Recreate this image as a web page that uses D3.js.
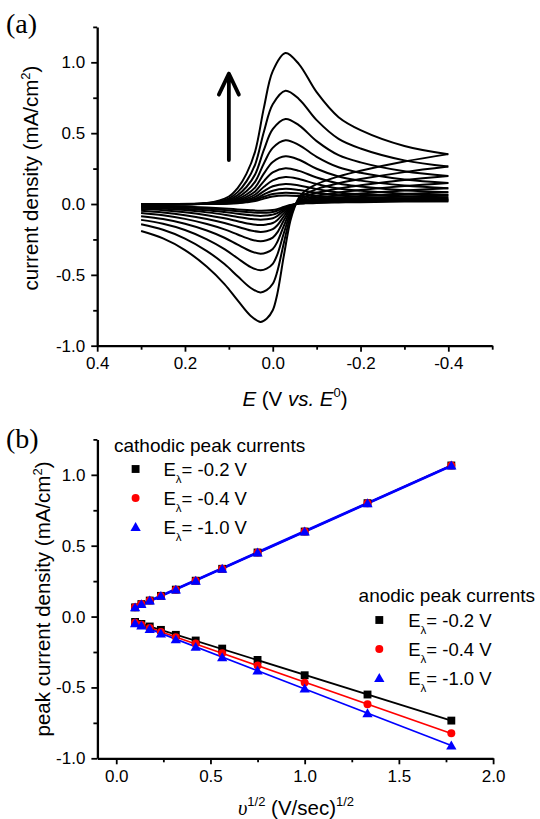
<!DOCTYPE html>
<html><head><meta charset="utf-8">
<script src="https://cdn.jsdelivr.net/npm/d3@7"></script>
<style>
body{margin:0;background:#fff}
svg{display:block}
</style>
</head><body>
<svg id="c" width="540" height="819"></svg>
<script>
// ---------- Panel (a): cyclic voltammograms (E in V vs E0, j in mA/cm2) ----------
const cvForwardE = [0.3, 0.15, 0.1, 0.08, 0.06, 0.04, 0.02, 0.0, -0.029, -0.06, -0.1, -0.15, -0.2, -0.3, -0.4];
const cvForwardJ = [
  [0, 0.007, 0.053, 0.112, 0.213, 0.373, 0.682, 0.938, 1.066, 0.986, 0.789, 0.613, 0.522, 0.410, 0.352],
  [0, 0.005, 0.040, 0.084, 0.160, 0.280, 0.512, 0.704, 0.800, 0.740, 0.592, 0.460, 0.392, 0.308, 0.264],
  [0, 0.004, 0.030, 0.063, 0.120, 0.210, 0.384, 0.528, 0.600, 0.555, 0.444, 0.345, 0.294, 0.231, 0.198],
  [0, 0.003, 0.023, 0.047, 0.090, 0.158, 0.288, 0.396, 0.450, 0.416, 0.333, 0.259, 0.220, 0.173, 0.149],
  [0, 0.002, 0.017, 0.035, 0.067, 0.118, 0.216, 0.297, 0.337, 0.312, 0.249, 0.194, 0.165, 0.130, 0.111],
  [0, 0.002, 0.013, 0.027, 0.051, 0.089, 0.162, 0.223, 0.253, 0.234, 0.187, 0.145, 0.124, 0.097, 0.083],
  [0, 0.001, 0.010, 0.020, 0.038, 0.067, 0.122, 0.167, 0.190, 0.176, 0.141, 0.109, 0.093, 0.073, 0.063],
  [0, 0.001, 0.007, 0.015, 0.028, 0.050, 0.091, 0.125, 0.142, 0.131, 0.105, 0.082, 0.070, 0.055, 0.047],
  [0, 0.001, 0.005, 0.011, 0.021, 0.037, 0.068, 0.094, 0.107, 0.099, 0.079, 0.062, 0.052, 0.041, 0.035],
  [0, 0.001, 0.004, 0.008, 0.016, 0.028, 0.051, 0.070, 0.080, 0.074, 0.059, 0.046, 0.039, 0.031, 0.026],
  [0, 0.000, 0.003, 0.006, 0.012, 0.021, 0.038, 0.053, 0.060, 0.056, 0.044, 0.035, 0.029, 0.023, 0.020]
];
const cvReverseE = [-0.4, -0.3, -0.2, -0.15, -0.1, -0.075, -0.06, -0.05, -0.04, -0.025, -0.01, 0.0, 0.014, 0.028, 0.05, 0.08, 0.11, 0.15, 0.2, 0.25, 0.3];
const cvReverseJ = [
  [0.352, 0.300, 0.235, 0.195, 0.140, 0.095, 0.048, -0.020, -0.120, -0.370, -0.640, -0.750, -0.810, -0.832, -0.790, -0.680, -0.565, -0.443, -0.325, -0.243, -0.191],
  [0.264, 0.225, 0.176, 0.146, 0.105, 0.071, 0.036, -0.015, -0.090, -0.278, -0.480, -0.563, -0.608, -0.624, -0.593, -0.510, -0.424, -0.332, -0.244, -0.182, -0.143],
  [0.198, 0.169, 0.132, 0.110, 0.079, 0.053, 0.027, -0.011, -0.068, -0.208, -0.360, -0.422, -0.456, -0.468, -0.445, -0.383, -0.318, -0.249, -0.183, -0.139, -0.112],
  [0.149, 0.127, 0.099, 0.082, 0.059, 0.040, 0.020, -0.008, -0.051, -0.156, -0.270, -0.317, -0.342, -0.351, -0.333, -0.287, -0.238, -0.187, -0.139, -0.106, -0.086],
  [0.111, 0.095, 0.074, 0.062, 0.044, 0.030, 0.015, -0.006, -0.038, -0.117, -0.202, -0.237, -0.256, -0.263, -0.250, -0.215, -0.179, -0.141, -0.105, -0.080, -0.064],
  [0.083, 0.071, 0.056, 0.046, 0.033, 0.023, 0.011, -0.005, -0.028, -0.088, -0.152, -0.178, -0.192, -0.197, -0.187, -0.161, -0.134, -0.106, -0.079, -0.060, -0.048],
  [0.063, 0.053, 0.042, 0.035, 0.025, 0.017, 0.009, -0.004, -0.021, -0.066, -0.114, -0.134, -0.144, -0.148, -0.141, -0.121, -0.101, -0.079, -0.058, -0.044, -0.036],
  [0.047, 0.040, 0.031, 0.026, 0.019, 0.013, 0.006, -0.003, -0.016, -0.049, -0.085, -0.100, -0.108, -0.111, -0.105, -0.091, -0.075, -0.059, -0.043, -0.033, -0.027],
  [0.035, 0.030, 0.024, 0.020, 0.014, 0.010, 0.005, -0.002, -0.012, -0.037, -0.064, -0.075, -0.081, -0.084, -0.079, -0.068, -0.057, -0.044, -0.033, -0.025, -0.020],
  [0.026, 0.023, 0.018, 0.015, 0.011, 0.007, 0.004, -0.002, -0.009, -0.028, -0.048, -0.056, -0.061, -0.062, -0.059, -0.051, -0.042, -0.033, -0.024, -0.018, -0.015],
  [0.020, 0.017, 0.013, 0.011, 0.008, 0.005, 0.003, -0.001, -0.007, -0.021, -0.036, -0.042, -0.046, -0.047, -0.044, -0.038, -0.032, -0.025, -0.018, -0.014, -0.011]
];
const arrowE = 0.1, arrowFromJ = 0.31, arrowToJ = 0.92;
const aXMajor = [0.4, 0.2, 0.0, -0.2, -0.4];
const aXMinor = [0.3, 0.1, -0.1, -0.3, -0.5];
const aYMajor = [-1.0, -0.5, 0.0, 0.5, 1.0];
const aYMinor = [-0.75, -0.25, 0.25, 0.75, 1.25];

// ---------- Panel (b): peak currents vs sqrt(scan rate) ----------
const sqrtScanRate = [0.1, 0.1334, 0.1778, 0.2371, 0.3162, 0.4217, 0.5623, 0.7499, 1.0, 1.3335, 1.7783];
const cathodicM02 = [0.065, 0.088, 0.113, 0.146, 0.190, 0.253, 0.337, 0.452, 0.600, 0.800, 1.066];
const cathodicM04 = [0.065, 0.088, 0.113, 0.146, 0.190, 0.253, 0.337, 0.452, 0.600, 0.800, 1.066];
const cathodicM10 = [0.065, 0.088, 0.113, 0.146, 0.190, 0.253, 0.337, 0.452, 0.600, 0.800, 1.066];
const anodicM02 = [-0.038, -0.052, -0.070, -0.094, -0.129, -0.169, -0.226, -0.306, -0.414, -0.550, -0.734];
const anodicM04 = [-0.043, -0.058, -0.080, -0.108, -0.145, -0.190, -0.259, -0.346, -0.466, -0.618, -0.823];
const anodicM10 = [-0.047, -0.064, -0.088, -0.120, -0.161, -0.214, -0.287, -0.381, -0.508, -0.682, -0.910];
const seriesValues = ["= -0.2 V", "= -0.4 V", "= -1.0 V"];
const seriesColors = ["#000000", "#ff0000", "#0000ff"];
const seriesSymbols = [d3.symbolSquare, d3.symbolCircle, d3.symbolTriangle];
const seriesSizes = [62, 50, 46];
const bXMajor = [0.0, 0.5, 1.0, 1.5, 2.0];
const bXMinor = [0.25, 0.75, 1.25, 1.75];
const bYMajor = [-1.0, -0.5, 0.0, 0.5, 1.0];
const bYMinor = [-0.75, -0.25, 0.25, 0.75, 1.25];

// ---------- drawing ----------
const svg = d3.select("#c");
const FONT = '"Liberation Sans",Arial,sans-serif';
const SERIF = '"Liberation Serif","Times New Roman",serif';
svg.attr("font-family", FONT);

const xA = d3.scaleLinear().domain([0.4, -0.5]).range([97.2, 492.2]);
const yA = d3.scaleLinear().domain([-1, 1.25]).range([345.7, 26.9]);
const xB = d3.scaleLinear().domain([-0.1, 2.0]).range([97.4, 493.1]);
const yB = d3.scaleLinear().domain([-1, 1.25]).range([758.3, 439.4]);

const fmt = d => d.toFixed(1);

function drawAxes(x, y, xMaj, xMin, yMaj, yMin) {
  const y0 = y.range()[0], x0 = x.range()[0];
  const gx1 = svg.append("g").attr("transform", `translate(0,${y0})`)
    .call(d3.axisBottom(x).tickValues(xMin).tickSize(4).tickFormat("").tickSizeOuter(0));
  gx1.select(".domain").remove();
  const gy1 = svg.append("g").attr("transform", `translate(${x0},0)`)
    .call(d3.axisLeft(y).tickValues(yMin).tickSize(4).tickFormat("").tickSizeOuter(0));
  gy1.select(".domain").remove();
  const gx = svg.append("g").attr("transform", `translate(0,${y0})`)
    .call(d3.axisBottom(x).tickValues(xMaj).tickSize(6).tickPadding(5.5).tickFormat(fmt).tickSizeOuter(0));
  const gy = svg.append("g").attr("transform", `translate(${x0},0)`)
    .call(d3.axisLeft(y).tickValues(yMaj).tickSize(6).tickPadding(6).tickFormat(fmt).tickSizeOuter(0));
  [gx1, gy1, gx, gy].forEach(g => {
    g.attr("font-family", FONT).attr("font-size", 17);
    g.selectAll(".tick line").attr("stroke", "#000").attr("stroke-width", 1.8);
    g.selectAll(".tick text").attr("fill", "#000");
    g.select(".domain").attr("stroke", "#000").attr("stroke-width", 2.3);
  });
}

// ===== Panel (a) =====
drawAxes(xA, yA, aXMajor, aXMinor, aYMajor, aYMinor);

const lineA = d3.line().x(d => xA(d[0])).y(d => yA(d[1])).curve(d3.curveCatmullRom.alpha(0.5));
const gCV = svg.append("g").attr("fill", "none").attr("stroke", "#000").attr("stroke-width", 2);
cvForwardJ.forEach(row => {
  gCV.append("path").attr("d", lineA(cvForwardE.map((e, i) => [e, row[i]])));
});
cvReverseJ.forEach(row => {
  gCV.append("path").attr("d", lineA(cvReverseE.map((e, i) => [e, row[i]])));
});

// arrow
const ax = xA(arrowE), ayTop = yA(arrowToJ), ayBot = yA(arrowFromJ);
svg.append("path")
  .attr("d", `M${ax},${ayBot}L${ax},${ayTop}M${ax - 10},${ayTop + 21}L${ax},${ayTop}L${ax + 10},${ayTop + 21}`)
  .attr("fill", "none").attr("stroke", "#000").attr("stroke-width", 3.8)
  .attr("stroke-linecap", "round").attr("stroke-linejoin", "round");

// labels panel (a)
svg.append("text").attr("x", 6).attr("y", 33)
  .attr("font-family", SERIF).attr("font-size", 28).text("(a)");

const yLabA = svg.append("text").attr("transform", "translate(31,178) rotate(-90)")
  .attr("text-anchor", "middle").attr("dy", "0.35em").attr("font-size", 20.5);
yLabA.append("tspan").text("current density (mA/cm");
yLabA.append("tspan").attr("font-size", 13).attr("dy", -8).text("2");
yLabA.append("tspan").attr("dy", 8).text(")");

const xLabA = svg.append("text").attr("x", 295).attr("y", 406).attr("text-anchor", "middle").attr("font-size", 20.5);
xLabA.append("tspan").attr("font-style", "italic").text("E");
xLabA.append("tspan").text(" (V ");
xLabA.append("tspan").attr("font-style", "italic").text("vs. E");
xLabA.append("tspan").attr("font-size", 13).attr("dy", -9).text("0");
xLabA.append("tspan").attr("dy", 9).text(")");

// ===== Panel (b) =====
drawAxes(xB, yB, bXMajor, bXMinor, bYMajor, bYMinor);

function fit(xs, ys) {
  const mx = d3.mean(xs), my = d3.mean(ys);
  const sxy = d3.sum(xs, (x, i) => (x - mx) * (ys[i] - my));
  const sxx = d3.sum(xs, x => (x - mx) * (x - mx));
  const b = sxy / sxx;
  return x => my + b * (x - mx);
}
const lineB = d3.line().x(d => xB(d[0])).y(d => yB(d[1]));
const xEnds = [sqrtScanRate[0], sqrtScanRate[sqrtScanRate.length - 1]];
const anodic = [anodicM02, anodicM04, anodicM10];
const cathodic = [cathodicM02, cathodicM04, cathodicM10];

anodic.forEach((ys, k) => {
  const f = fit(sqrtScanRate, ys);
  svg.append("path").attr("d", lineB(xEnds.map(x => [x, f(x)])))
    .attr("fill", "none").attr("stroke", seriesColors[k]).attr("stroke-width", 1.7);
});
cathodic.forEach((ys, k) => {
  const f = fit(sqrtScanRate, ys);
  svg.append("path").attr("d", lineB(xEnds.map(x => [x, f(x)])))
    .attr("fill", "none").attr("stroke", seriesColors[k]).attr("stroke-width", k === 2 ? 2.8 : 1.8);
});

[0, 1, 2].forEach(k => {
  const sym = d3.symbol().type(seriesSymbols[k]).size(seriesSizes[k]);
  [cathodic[k], anodic[k]].forEach(ys => {
    svg.append("g").selectAll("path").data(sqrtScanRate.map((x, i) => [x, ys[i]])).join("path")
      .attr("d", sym)
      .attr("transform", d => `translate(${xB(d[0])},${yB(d[1]) + (k === 2 ? 1 : 0)})`)
      .attr("fill", seriesColors[k]);
  });
});

// legends
function legend(title, tx, ty, mx, ex, rowYs) {
  svg.append("text").attr("x", tx).attr("y", ty).attr("font-size", 19).text(title);
  rowYs.forEach((by, k) => {
    svg.append("path").attr("d", d3.symbol().type(seriesSymbols[k]).size(seriesSizes[k])())
      .attr("transform", `translate(${mx},${by - 7 + (k === 2 ? 1 : 0)})`).attr("fill", seriesColors[k]);
    const t = svg.append("text").attr("x", ex).attr("y", by).attr("font-size", 18.5);
    t.append("tspan").text("E");
    t.append("tspan").attr("font-size", 11.5).attr("dy", 7).text("λ");
    t.append("tspan").attr("dy", -7).text(seriesValues[k]);
  });
}
legend("cathodic peak currents", 114, 451.7, 135.6, 163.5, [476, 505, 534]);
legend("anodic peak currents", 358.6, 601.7, 379.3, 408.2, [627, 656, 685]);

svg.append("text").attr("x", 6).attr("y", 448)
  .attr("font-family", SERIF).attr("font-size", 28).text("(b)");

const yLabB = svg.append("text").attr("transform", "translate(43,599) rotate(-90)")
  .attr("text-anchor", "middle").attr("dy", "0.35em").attr("font-size", 20.5);
yLabB.append("tspan").text("peak current density (mA/cm");
yLabB.append("tspan").attr("font-size", 13).attr("dy", -8).text("2");
yLabB.append("tspan").attr("dy", 8).text(")");

const xLabB = svg.append("text").attr("x", 296).attr("y", 815).attr("text-anchor", "middle").attr("font-size", 20.5);
xLabB.append("tspan").attr("font-family", SERIF).attr("font-style", "italic").text("υ");
xLabB.append("tspan").attr("font-size", 13).attr("dy", -9).text("1/2");
xLabB.append("tspan").attr("dy", 9).text(" (V/sec)");
xLabB.append("tspan").attr("font-size", 13).attr("dy", -9).text("1/2");
</script>
</body></html>
